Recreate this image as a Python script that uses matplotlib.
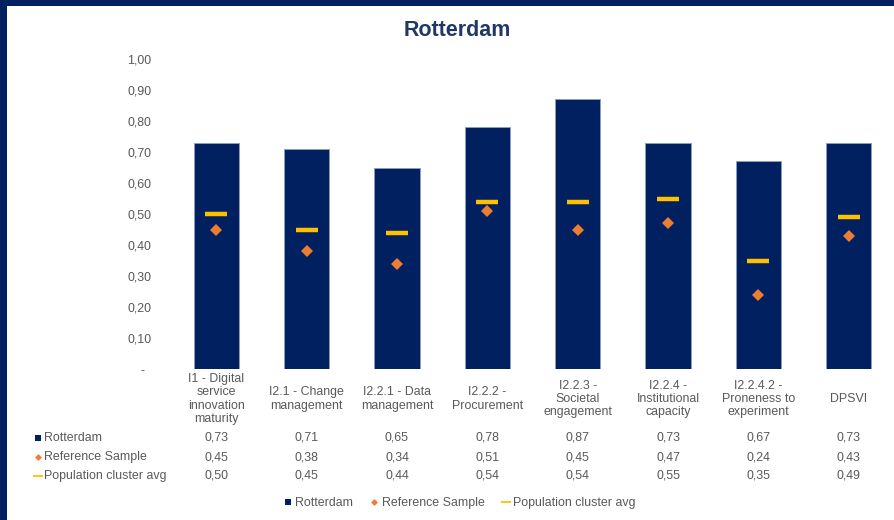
import matplotlib
matplotlib.use("Agg")
import matplotlib.pyplot as plt
from matplotlib.patches import Rectangle
from matplotlib.lines import Line2D
import numpy as np

plt.rcParams['font.family'] = ['Liberation Sans', 'DejaVu Sans']

categories = [
    "I1 - Digital\nservice\ninnovation\nmaturity",
    "I2.1 - Change\nmanagement",
    "I2.2.1 - Data\nmanagement",
    "I2.2.2 -\nProcurement",
    "I2.2.3 -\nSocietal\nengagement",
    "I2.2.4 -\nInstitutional\ncapacity",
    "I2.2.4.2 -\nProneness to\nexperiment",
    "DPSVI",
]
rotterdam = [0.73, 0.71, 0.65, 0.78, 0.87, 0.73, 0.67, 0.73]
reference_sample = [0.45, 0.38, 0.34, 0.51, 0.45, 0.47, 0.24, 0.43]
population_avg = [0.50, 0.45, 0.44, 0.54, 0.54, 0.55, 0.35, 0.49]
series_names = ["Rotterdam", "Reference Sample", "Population cluster avg"]
yticks = [0.0, 0.1, 0.2, 0.3, 0.4, 0.5, 0.6, 0.7, 0.8, 0.9, 1.0]

NAVY = "#002060"
ORANGE = "#ED7D31"
YELLOW = "#FFC000"
GREY = "#595959"
FS = 8.9

W, H = 894, 520
fig = plt.figure(figsize=(W / 100, H / 100), dpi=100)
fig.patch.set_facecolor("white")

def fx(px):
    return px / W

def fy(py):
    return 1 - py / H

ax_left, ax_right, ax_top, ax_bottom = 171, 894, 59, 369
ax = fig.add_axes([fx(ax_left), fy(ax_bottom), fx(ax_right - ax_left), (ax_bottom - ax_top) / H])

x = np.arange(len(categories))
ax.bar(x, rotterdam, width=0.5, color=NAVY, edgecolor="#8A9CC0", linewidth=0.7, zorder=2)
ax.plot(x, reference_sample, linestyle="none", marker="D", markersize=6.5,
        color=ORANGE, markeredgewidth=0, zorder=3)
ax.plot(x, population_avg, linestyle="none", marker="_", markersize=15.5,
        markeredgewidth=3.2, color=YELLOW, zorder=3)

ax.set_xlim(-0.5, len(categories) - 0.5)
ax.set_ylim(0, 1.0)
ax.set_yticks(yticks)
ax.set_yticklabels(["-  " if v == 0 else f"{v:.2f}".replace(".", ",") for v in yticks])
ax.tick_params(axis="y", length=0, pad=14, labelsize=FS, labelcolor=GREY)
ax.set_xticks([])
for s in ax.spines.values():
    s.set_visible(False)

def xfig(i):
    return fx(ax_left) + (i + 0.5) / len(categories) * fx(ax_right - ax_left)

# category labels
for i, cat in enumerate(categories):
    fig.text(xfig(i), fy(399), cat, ha="center", va="center", multialignment="center",
             fontsize=FS, color=GREY, linespacing=1.12)

# data table
rows = [rotterdam, reference_sample, population_avg]
row_y = [438, 457, 476]
for vals, ry in zip(rows, row_y):
    for i, v in enumerate(vals):
        fig.text(xfig(i), fy(ry), f"{v:.2f}".replace(".", ","), ha="center", va="center",
                 fontsize=FS, color=GREY)

row_markers = [
    dict(marker="s", markersize=5, color=NAVY, markeredgewidth=0),
    dict(marker="D", markersize=3.5, color=ORANGE, markeredgewidth=0),
    dict(marker="_", markersize=7, color=YELLOW, markeredgewidth=1.3),
]
for name, ry, mk in zip(series_names, row_y, row_markers):
    fig.add_artist(Line2D([fx(38)], [fy(ry)], transform=fig.transFigure, linestyle="none", **mk))
    fig.text(fx(44), fy(ry), name, ha="left", va="center", fontsize=FS, color=GREY)

# legend
handles = [
    Line2D([], [], linestyle="none", marker="s", markersize=5, color=NAVY, markeredgewidth=0),
    Line2D([], [], linestyle="none", marker="D", markersize=3.5, color=ORANGE, markeredgewidth=0),
    Line2D([], [], linestyle="none", marker="_", markersize=7, color=YELLOW, markeredgewidth=1.3),
]
leg = fig.legend(handles, series_names, loc="center", bbox_to_anchor=(fx(460), fy(503)),
                 ncol=3, frameon=False, fontsize=FS, handlelength=0.6, handletextpad=0.3,
                 columnspacing=1.4, borderpad=0)
for t in leg.get_texts():
    t.set_color(GREY)

# title
fig.text(fx(457), fy(30), "Rotterdam", ha="center", va="center", fontsize=15.5,
         fontweight="bold", color="#1F3864")

# navy frame (top and left)
fig.add_artist(Rectangle((0, fy(6)), 1, 6 / H, transform=fig.transFigure,
                         facecolor=NAVY, edgecolor="none"))
fig.add_artist(Rectangle((0, 0), fx(7), 1, transform=fig.transFigure,
                         facecolor=NAVY, edgecolor="none"))

fig.savefig("out.png", dpi=100, facecolor="white")
